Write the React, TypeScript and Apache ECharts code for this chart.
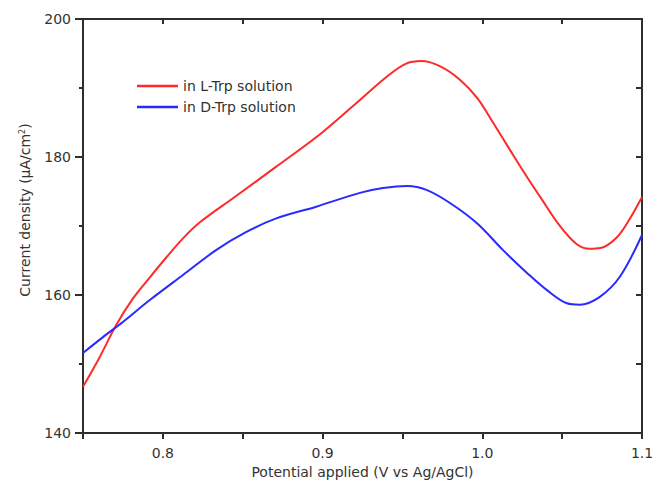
import React, { useEffect, useRef } from "react";
import * as echarts from "echarts";

const lTrpX = [0.75, 0.76, 0.7707, 0.7813, 0.792, 0.802, 0.8126, 0.823, 0.845, 0.871, 0.9, 0.925, 0.94, 0.952, 0.962, 0.974, 0.986, 0.997, 1.0067, 1.0174, 1.028, 1.038, 1.048, 1.059, 1.067, 1.074, 1.084, 1.092, 1.1];
const lTrpY = [146.7, 150.8, 155.6, 159.5, 162.6, 165.4, 168.2, 170.5, 174.2, 178.6, 183.6, 188.6, 191.6, 193.5, 193.9, 193.1, 191.2, 188.5, 185.0, 181.0, 177.1, 173.6, 170.2, 167.4, 166.7, 166.8, 168.3, 170.9, 174.2];
const dTrpX = [0.75, 0.7625, 0.775, 0.792, 0.8126, 0.8333, 0.852, 0.871, 0.896, 0.9234, 0.9378, 0.953, 0.9654, 0.98, 0.9967, 1.013, 1.028, 1.0405, 1.053, 1.061, 1.0734, 1.086, 1.1];
const dTrpY = [151.6, 153.9, 156.1, 159.3, 162.9, 166.5, 169.1, 171.1, 172.8, 174.8, 175.5, 175.8, 175.2, 173.3, 170.4, 166.5, 163.2, 160.7, 158.8, 158.6, 159.7, 162.6, 168.7];

const xLabels = ["0.8", "0.9", "1.0", "1.1"];
const seriesNames = ["in L-Trp solution", "in D-Trp solution"];

const AXIS_COLOR = "#2e2e2e";
const TEXT_COLOR = "#333";
const FONT = "DejaVu Sans, Liberation Sans, Arial, sans-serif";

export default function App() {
  const ref = useRef<HTMLDivElement>(null);
  useEffect(() => {
    const chart = echarts.init(ref.current!, null, { renderer: "svg" });
    const line = { color: AXIS_COLOR, width: 2 };
    const xLabelFmt = (v: number) => {
      const t = v.toFixed(1);
      return Math.abs(v - Number(t)) < 1e-6 && xLabels.includes(t) ? t : "";
    };
    chart.setOption({
      animation: false,
      backgroundColor: "#fff",
      grid: { left: 83, right: 12, top: 19, bottom: 53, outerBoundsMode: "none" },
      legend: {
        orient: "vertical",
        left: 132,
        top: 74,
        itemWidth: 41,
        itemHeight: 14,
        itemGap: 7,
        icon: "path://M0,6 L41,6 L41,8.5 L0,8.5 Z",
        textStyle: { fontFamily: FONT, fontSize: 14, color: "#333" },
        data: seriesNames,
      },
      graphic: [
        {
          type: "text",
          x: 25,
          y: 210,
          rotation: Math.PI / 2,
          style: {
            text: "Current density (μA/cm{sup|2})",
            fontFamily: FONT,
            fontSize: 14,
            fill: "#333",
            align: "center",
            verticalAlign: "middle",
            rich: { sup: { fontFamily: FONT, fontSize: 8, fill: "#333", verticalAlign: "top", padding: [0, 0, 6, 0] } },
          },
        },
      ],
      xAxis: [
        {
          type: "value",
          min: 0.75,
          max: 1.1,
          interval: 0.05,
          position: "bottom",
          splitLine: { show: false },
          name: "Potential applied (V vs Ag/AgCl)",
          nameLocation: "middle",
          nameGap: 28,
          nameTextStyle: { fontFamily: FONT, fontSize: 14, color: "#333" },
          axisLine: { show: true, onZero: false, lineStyle: line },
          axisTick: { show: true, length: 6, lineStyle: line },
          axisLabel: { show: true, formatter: xLabelFmt, fontFamily: FONT, fontSize: 14, color: TEXT_COLOR, margin: 13 },
        },
        {
          type: "value",
          min: 0.75,
          max: 1.1,
          interval: 0.05,
          position: "top",
          splitLine: { show: false },
          axisLine: { show: true, onZero: false, lineStyle: line },
          axisTick: { show: true, inside: true, length: 5, lineStyle: line },
          axisLabel: { show: false },
        },
      ],
      yAxis: [
        {
          type: "value",
          min: 140,
          max: 200,
          interval: 20,
          position: "left",
          splitLine: { show: false },
          axisLine: { show: true, onZero: false, lineStyle: line },
          axisTick: { show: true, length: 8, lineStyle: line },
          minorTick: { show: true, splitNumber: 2, length: 4, lineStyle: line },
          axisLabel: { show: true, fontFamily: FONT, fontSize: 14, color: TEXT_COLOR, margin: 12 },
        },
        {
          type: "value",
          min: 140,
          max: 200,
          interval: 10,
          position: "right",
          splitLine: { show: false },
          axisLine: { show: true, onZero: false, lineStyle: line },
          axisTick: { show: true, inside: true, length: 6, lineStyle: line },
          axisLabel: { show: false },
        },
      ],
      series: [
        {
          name: seriesNames[0],
          type: "line",
          smooth: 0.35,
          symbol: "none",
          xAxisIndex: 0,
          yAxisIndex: 0,
          lineStyle: { color: "#ff2a2a", width: 2 },
          itemStyle: { color: "#ff2a2a" },
          data: lTrpX.map((x, i) => [x, lTrpY[i]]),
        },
        {
          name: seriesNames[1],
          type: "line",
          smooth: 0.35,
          symbol: "none",
          xAxisIndex: 0,
          yAxisIndex: 0,
          lineStyle: { color: "#2a2aff", width: 2 },
          itemStyle: { color: "#2a2aff" },
          data: dTrpX.map((x, i) => [x, dTrpY[i]]),
        },
      ],
    });
    return () => chart.dispose();
  }, []);
  return <div ref={ref} style={{ width: 654, height: 486, position: "absolute", left: 0, top: 0 }} />;
}
